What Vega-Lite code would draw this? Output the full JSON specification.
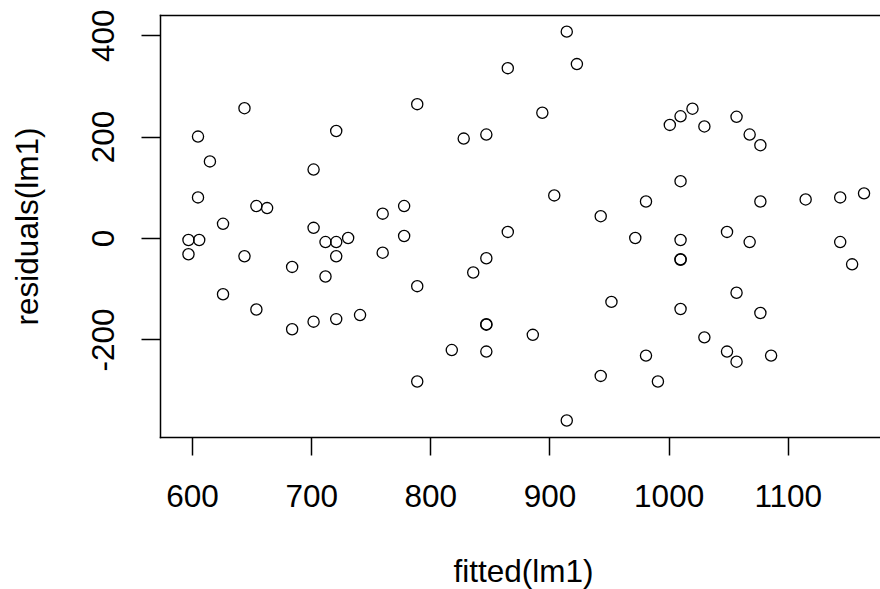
{
  "$schema": "https://vega.github.io/schema/vega-lite/v6.json",
  "width": 720,
  "height": 422,
  "autosize": {"type": "none"},
  "padding": {"left": 160, "top": 15, "right": 0, "bottom": 152},
  "background": "white",
  "config": {
    "view": {"stroke": null},
    "axis": {
      "grid": false,
      "labelFont": "Liberation Sans",
      "titleFont": "Liberation Sans",
      "labelColor": "#000",
      "titleColor": "#000",
      "domainColor": "#000",
      "tickColor": "#000",
      "labelFontSize": 31.5,
      "titleFontSize": 31.5,
      "titleFontWeight": "normal",
      "domainWidth": 1.5,
      "tickWidth": 1.5,
      "domainCap": "square"
    }
  },
  "data": {
    "values": [
      {"fitted": 644, "resid": 256}, {"fitted": 605, "resid": 200}, {"fitted": 721, "resid": 211}, {"fitted": 789, "resid": 264},
      {"fitted": 615, "resid": 151}, {"fitted": 702, "resid": 135}, {"fitted": 605, "resid": 80}, {"fitted": 654, "resid": 63},
      {"fitted": 663, "resid": 59}, {"fitted": 626, "resid": 28}, {"fitted": 702, "resid": 20}, {"fitted": 760, "resid": 48},
      {"fitted": 778, "resid": 63}, {"fitted": 597, "resid": -4}, {"fitted": 606, "resid": -4}, {"fitted": 597, "resid": -32},
      {"fitted": 644, "resid": -36}, {"fitted": 684, "resid": -57}, {"fitted": 712, "resid": -8}, {"fitted": 721, "resid": -8},
      {"fitted": 731, "resid": 0}, {"fitted": 721, "resid": -36}, {"fitted": 712, "resid": -76}, {"fitted": 760, "resid": -29},
      {"fitted": 778, "resid": 4}, {"fitted": 789, "resid": -95}, {"fitted": 626, "resid": -111}, {"fitted": 654, "resid": -141},
      {"fitted": 684, "resid": -180}, {"fitted": 702, "resid": -165}, {"fitted": 721, "resid": -160}, {"fitted": 741, "resid": -152},
      {"fitted": 789, "resid": -283}, {"fitted": 914.5, "resid": 407}, {"fitted": 923, "resid": 343}, {"fitted": 865, "resid": 335},
      {"fitted": 894, "resid": 247}, {"fitted": 828, "resid": 196}, {"fitted": 847, "resid": 204}, {"fitted": 1001, "resid": 223},
      {"fitted": 1010, "resid": 240}, {"fitted": 1020, "resid": 255}, {"fitted": 1030, "resid": 220}, {"fitted": 1057, "resid": 239},
      {"fitted": 1068, "resid": 204}, {"fitted": 1077, "resid": 183}, {"fitted": 1010, "resid": 112}, {"fitted": 904, "resid": 84},
      {"fitted": 981, "resid": 72}, {"fitted": 943, "resid": 43}, {"fitted": 1077, "resid": 72}, {"fitted": 1115, "resid": 76},
      {"fitted": 1144, "resid": 80}, {"fitted": 1164, "resid": 88}, {"fitted": 865, "resid": 12}, {"fitted": 972, "resid": 0},
      {"fitted": 1010, "resid": -4}, {"fitted": 1049, "resid": 12}, {"fitted": 1068, "resid": -8}, {"fitted": 1144, "resid": -8},
      {"fitted": 1010, "resid": -42}, {"fitted": 1010, "resid": -43}, {"fitted": 1154, "resid": -52}, {"fitted": 847, "resid": -40},
      {"fitted": 836, "resid": -68}, {"fitted": 1057, "resid": -108}, {"fitted": 952, "resid": -126}, {"fitted": 1010, "resid": -140},
      {"fitted": 1077, "resid": -148}, {"fitted": 847, "resid": -170}, {"fitted": 847, "resid": -171}, {"fitted": 886, "resid": -191},
      {"fitted": 818, "resid": -221}, {"fitted": 847, "resid": -224}, {"fitted": 1030, "resid": -196}, {"fitted": 981, "resid": -232},
      {"fitted": 943, "resid": -272}, {"fitted": 991, "resid": -283}, {"fitted": 1049, "resid": -224}, {"fitted": 1057, "resid": -244},
      {"fitted": 1086, "resid": -232}, {"fitted": 914.5, "resid": -360}
    ]
  },
  "layer": [
    {
      "mark": {"type": "point", "shape": "circle", "filled": false, "color": "#000", "strokeWidth": 1.3, "size": 125, "opacity": 1},
      "encoding": {
        "x": {
          "field": "fitted", "type": "quantitative",
          "scale": {"domain": [573.1, 1177.4], "nice": false, "zero": false},
          "axis": {
            "orient": "bottom", "values": [600, 700, 800, 900, 1000, 1100], "labelExpr": "'' + datum.value",
            "tickSize": 18, "labelPadding": 51, "labelBaseline": "alphabetic", "labelAngle": 0, "labelAlign": "center",
            "labelFlush": false, "labelOverlap": false,
            "title": "fitted(lm1)", "titleX": 363, "titleY": 144, "titleBaseline": "alphabetic", "titleAlign": "center", "titleAngle": 0
          }
        },
        "y": {
          "field": "resid", "type": "quantitative",
          "scale": {"domain": [-392.5, 439.8], "nice": false, "zero": false},
          "axis": {
            "orient": "left", "values": [-200, 0, 200, 400], "labelExpr": "'' + datum.value",
            "tickSize": 19, "labelPadding": 28, "labelAngle": -90, "labelAlign": "center", "labelBaseline": "alphabetic",
            "labelFlush": false, "labelOverlap": false,
            "title": "residuals(lm1)", "titleAngle": -90, "titleX": -123, "titleY": 211, "titleBaseline": "alphabetic", "titleAlign": "center"
          }
        }
      }
    },
    {
      "mark": {"type": "point", "opacity": 0},
      "encoding": {
        "x": {
          "field": "fitted", "type": "quantitative",
          "axis": {"orient": "top", "labels": false, "ticks": false, "domain": true, "title": null, "grid": false}
        }
      }
    }
  ],
  "resolve": {"axis": {"x": "independent"}}
}
